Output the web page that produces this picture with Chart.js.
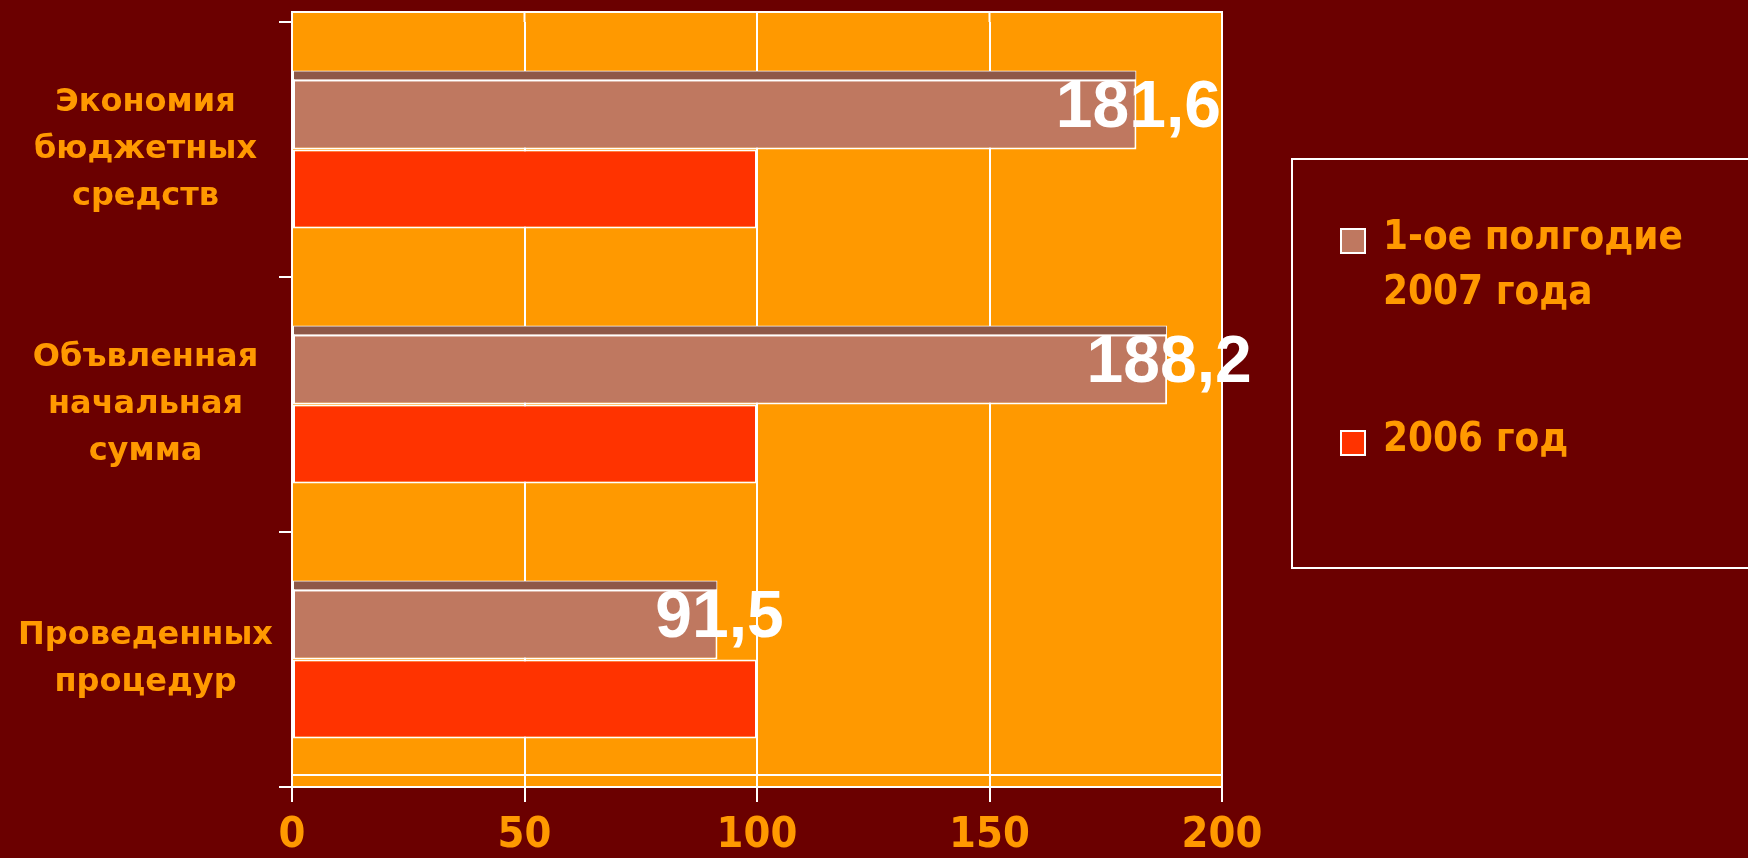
<!DOCTYPE html>
<html>
<head>
<meta charset="utf-8">
<script src="https://cdn.jsdelivr.net/npm/chart.js@4/dist/chart.umd.min.js"></script>
<style>
  html, body { margin: 0; padding: 0; background: #6b0000; }
  #wrap { position: relative; width: 1748px; height: 858px; }
  #legend {
    position: absolute; left: 1291px; top: 158px; width: 520px; height: 411px;
    border: 2px solid #ffffff; box-sizing: border-box;
    font-family: "DejaVu Sans Condensed", "DejaVu Sans", sans-serif; font-weight: bold;
    font-size: 40px; color: #ff9900; line-height: 55px;
  }
  .item { position: absolute; left: 47px; }
  .box { position: absolute; left: 0; top: 20px; width: 22px; height: 22px; border: 2px solid #ffffff; }
  .txt { position: absolute; left: 43px; white-space: nowrap; }
</style>
</head>
<body>
<div id="wrap">
  <canvas id="chart" width="1748" height="858"></canvas>
  <div id="legend"></div>
</div>
<script>
/* Chart data */
var categories = [
  ['Экономия', 'бюджетных', 'средств'],
  ['Объвленная', 'начальная', 'сумма'],
  ['Проведенных', 'процедур']
];
var seriesNames = [['1-ое полгодие', '2007 года'], ['2006 год']];
var values2007 = [181.6, 188.2, 91.5];
var values2006 = [100, 100, 100];
var valueLabels = ['181,6', '188,2', '91,5'];
var xTicks = [0, 50, 100, 150, 200];

var COLORS = ['#bf7860', '#ff3300'];
var TOP_COLORS = ['#8e5848', '#c42000'];

/* Orange plot wall with white frame and floor line */
var wallPlugin = {
  id: 'wall',
  beforeDraw: function (chart) {
    var ctx = chart.ctx;
    var a = chart.chartArea;
    ctx.save();
    ctx.fillStyle = '#ff9900';
    ctx.fillRect(a.left, a.top - 10, a.right - a.left, a.bottom - a.top + 10);
    ctx.strokeStyle = '#ffffff';
    ctx.lineWidth = 2;
    ctx.beginPath();
    ctx.moveTo(a.left, a.bottom);
    ctx.lineTo(a.left, a.top - 10);
    ctx.lineTo(a.right, a.top - 10);
    ctx.lineTo(a.right, a.bottom);
    ctx.moveTo(a.left, a.bottom - 12);
    ctx.lineTo(a.right, a.bottom - 12);
    /* gridlines continue up the back wall */
    xTicks.forEach(function (v) {
      var x = chart.scales.x.getPixelForValue(v);
      ctx.moveTo(x, a.top - 10);
      ctx.lineTo(x, a.top);
    });
    ctx.stroke();
    ctx.restore();
  },
  afterDatasetsDraw: function (chart) {
    var ctx = chart.ctx;
    ctx.save();
    /* darker top face of the first series bars */
    chart.getDatasetMeta(0).data.forEach(function (bar) {
      var p = bar.getProps(['x', 'y', 'base', 'height'], true);
      var top = p.y - p.height / 2;
      ctx.fillStyle = TOP_COLORS[0];
      ctx.fillRect(p.base + 1, top + 1, p.x - p.base - 2, 8);
      ctx.fillStyle = '#ffffff';
      ctx.fillRect(p.base + 1, top + 9, p.x - p.base - 2, 2);
    });
    /* value labels at the bar ends */
    ctx.font = 'bold 66px "Liberation Sans", Arial, sans-serif';
    ctx.fillStyle = '#ffffff';
    ctx.textAlign = 'center';
    ctx.textBaseline = 'alphabetic';
    chart.getDatasetMeta(0).data.forEach(function (bar, i) {
      var p = bar.getProps(['x', 'y', 'height'], true);
      ctx.fillText(valueLabels[i], p.x + 2, p.y + 17);
    });
    ctx.restore();
  }
};

function createChart() {
  var el = document.getElementById('chart').getContext('2d');
  return new Chart(el, {
    type: 'bar',
    data: {
      labels: categories,
      datasets: [{
        label: seriesNames[0].join(' '),
        data: values2007,
        backgroundColor: COLORS[0],
        borderColor: '#ffffff',
        borderWidth: 2,
        borderSkipped: false,
        categoryPercentage: 0.62,
        barPercentage: 1
      }, {
        label: seriesNames[1].join(' '),
        data: values2006,
        backgroundColor: COLORS[1],
        borderColor: '#ffffff',
        borderWidth: 2,
        borderSkipped: false,
        categoryPercentage: 0.62,
        barPercentage: 1
      }]
    },
    options: {
      indexAxis: 'y',
      responsive: false,
      animation: false,
      layout: { padding: { top: 22, right: 526, left: 0, bottom: 0 } },
      plugins: { legend: { display: false }, tooltip: { enabled: false } },
      scales: {
        x: {
          min: 0, max: 200,
          afterBuildTicks: function (scale) {
            scale.ticks = xTicks.map(function (v) { return { value: v }; });
          },
          afterFit: function (scale) {
            scale.height = 71;
            scale.paddingLeft = 0;
          },
          grid: { color: '#ffffff', lineWidth: 2, tickLength: 15 },
          border: { color: '#ffffff', width: 2 },
          ticks: {
            color: '#ff9900', padding: 8, maxRotation: 0,
            font: { family: '"DejaVu Sans Condensed", "DejaVu Sans", sans-serif', weight: 'bold', size: 43 }
          }
        },
        y: {
          afterFit: function (scale) {
            scale.width = 292;
            scale.paddingTop = 0;
            scale.paddingBottom = 0;
          },
          grid: { drawOnChartArea: false, color: '#ffffff', lineWidth: 2, tickLength: 13 },
          border: { color: '#ffffff', width: 2 },
          ticks: {
            color: '#ff9900', padding: 6, crossAlign: 'center',
            font: { family: '"DejaVu Sans", sans-serif', weight: 'bold', size: 32, lineHeight: 1.47 }
          }
        }
      }
    },
    plugins: [wallPlugin]
  });
}

/* HTML legend */
function buildLegend() {
  var legend = document.getElementById('legend');
  var tops = [48, 250];
  seriesNames.forEach(function (name, i) {
    var item = document.createElement('div');
    item.className = 'item';
    item.style.top = tops[i] + 'px';
    var box = document.createElement('div');
    box.className = 'box';
    box.style.background = COLORS[i];
    var txt = document.createElement('div');
    txt.className = 'txt';
    txt.innerHTML = name.join('<br>');
    item.appendChild(box);
    item.appendChild(txt);
    legend.appendChild(item);
  });
}

createChart();
buildLegend();
</script>
</body>
</html>
